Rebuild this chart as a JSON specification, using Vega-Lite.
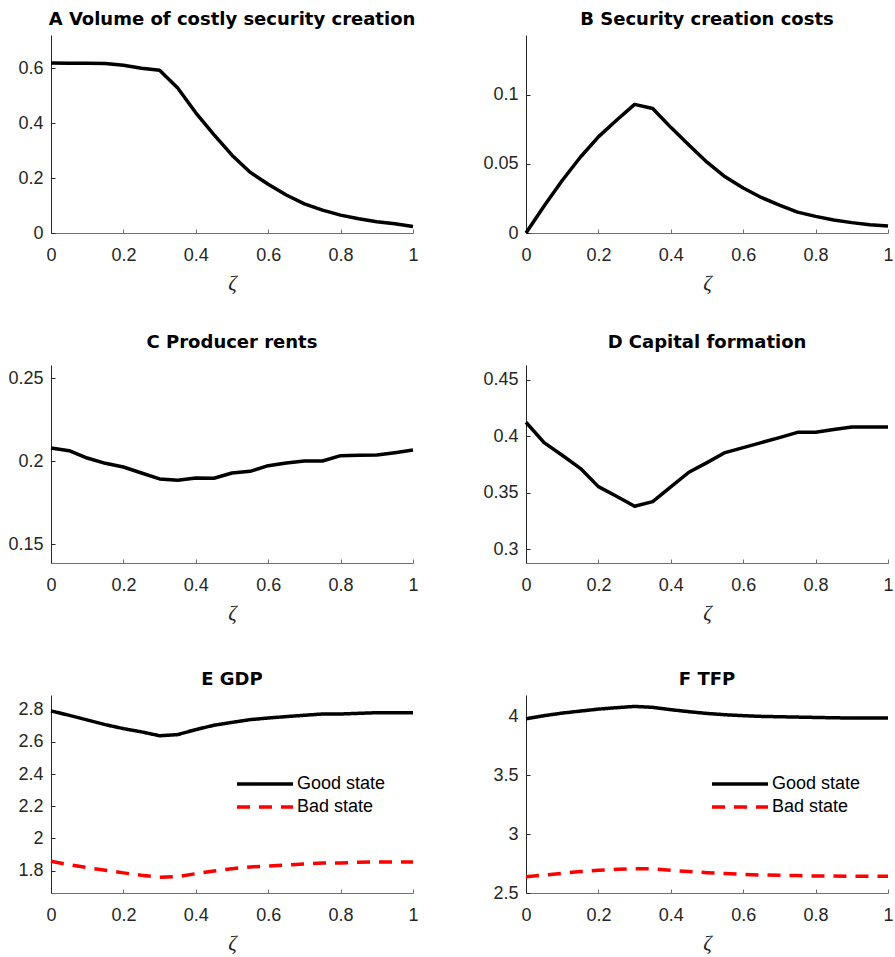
{
  "$schema": "https://vega.github.io/schema/vega-lite/v6.json",
  "background": "white",
  "padding": {"left": 7, "top": 11, "right": 0, "bottom": 5},
  "datasets": {
    "A": [
      {"z": 0, "v": 0.618}, {"z": 0.05, "v": 0.617}, {"z": 0.1, "v": 0.617}, {"z": 0.15, "v": 0.616},
      {"z": 0.2, "v": 0.61}, {"z": 0.25, "v": 0.599}, {"z": 0.3, "v": 0.592}, {"z": 0.35, "v": 0.527},
      {"z": 0.4, "v": 0.437}, {"z": 0.45, "v": 0.358}, {"z": 0.5, "v": 0.283}, {"z": 0.55, "v": 0.221},
      {"z": 0.6, "v": 0.177}, {"z": 0.65, "v": 0.138}, {"z": 0.7, "v": 0.106}, {"z": 0.75, "v": 0.083},
      {"z": 0.8, "v": 0.065}, {"z": 0.85, "v": 0.052}, {"z": 0.9, "v": 0.041}, {"z": 0.95, "v": 0.034},
      {"z": 1, "v": 0.024}
    ],
    "B": [
      {"z": 0, "v": 0.0}, {"z": 0.05, "v": 0.0195}, {"z": 0.1, "v": 0.038}, {"z": 0.15, "v": 0.0548},
      {"z": 0.2, "v": 0.0695}, {"z": 0.25, "v": 0.0815}, {"z": 0.3, "v": 0.093}, {"z": 0.35, "v": 0.09},
      {"z": 0.4, "v": 0.0764}, {"z": 0.45, "v": 0.0637}, {"z": 0.5, "v": 0.0512}, {"z": 0.55, "v": 0.0406},
      {"z": 0.6, "v": 0.0325}, {"z": 0.65, "v": 0.0257}, {"z": 0.7, "v": 0.0202}, {"z": 0.75, "v": 0.0151},
      {"z": 0.8, "v": 0.012}, {"z": 0.85, "v": 0.0094}, {"z": 0.9, "v": 0.0075}, {"z": 0.95, "v": 0.006},
      {"z": 1, "v": 0.005}
    ],
    "C": [
      {"z": 0, "v": 0.208}, {"z": 0.05, "v": 0.2064}, {"z": 0.1, "v": 0.202}, {"z": 0.15, "v": 0.1988},
      {"z": 0.2, "v": 0.1966}, {"z": 0.25, "v": 0.193}, {"z": 0.3, "v": 0.1894}, {"z": 0.35, "v": 0.1886},
      {"z": 0.4, "v": 0.19}, {"z": 0.45, "v": 0.1898}, {"z": 0.5, "v": 0.193}, {"z": 0.55, "v": 0.194},
      {"z": 0.6, "v": 0.1974}, {"z": 0.65, "v": 0.199}, {"z": 0.7, "v": 0.2002}, {"z": 0.75, "v": 0.2002},
      {"z": 0.8, "v": 0.2034}, {"z": 0.85, "v": 0.2036}, {"z": 0.9, "v": 0.2038}, {"z": 0.95, "v": 0.2052},
      {"z": 1, "v": 0.2068}
    ],
    "D": [
      {"z": 0, "v": 0.4124}, {"z": 0.05, "v": 0.3944}, {"z": 0.1, "v": 0.3832}, {"z": 0.15, "v": 0.3717},
      {"z": 0.2, "v": 0.3555}, {"z": 0.25, "v": 0.347}, {"z": 0.3, "v": 0.3381}, {"z": 0.35, "v": 0.3422},
      {"z": 0.4, "v": 0.3552}, {"z": 0.45, "v": 0.3682}, {"z": 0.5, "v": 0.3767}, {"z": 0.55, "v": 0.3856},
      {"z": 0.6, "v": 0.39}, {"z": 0.65, "v": 0.3944}, {"z": 0.7, "v": 0.3988}, {"z": 0.75, "v": 0.4035},
      {"z": 0.8, "v": 0.4035}, {"z": 0.85, "v": 0.4059}, {"z": 0.9, "v": 0.4082}, {"z": 0.95, "v": 0.4082},
      {"z": 1, "v": 0.4082}
    ],
    "E": [
      {"z": 0, "v": 2.792, "s": "Good state"}, {"z": 0.05, "v": 2.765, "s": "Good state"}, {"z": 0.1, "v": 2.736, "s": "Good state"},
      {"z": 0.15, "v": 2.707, "s": "Good state"}, {"z": 0.2, "v": 2.682, "s": "Good state"}, {"z": 0.25, "v": 2.662, "s": "Good state"},
      {"z": 0.3, "v": 2.638, "s": "Good state"}, {"z": 0.35, "v": 2.645, "s": "Good state"}, {"z": 0.4, "v": 2.676, "s": "Good state"},
      {"z": 0.45, "v": 2.703, "s": "Good state"}, {"z": 0.5, "v": 2.721, "s": "Good state"}, {"z": 0.55, "v": 2.738, "s": "Good state"},
      {"z": 0.6, "v": 2.748, "s": "Good state"}, {"z": 0.65, "v": 2.757, "s": "Good state"}, {"z": 0.7, "v": 2.765, "s": "Good state"},
      {"z": 0.75, "v": 2.773, "s": "Good state"}, {"z": 0.8, "v": 2.773, "s": "Good state"}, {"z": 0.85, "v": 2.777, "s": "Good state"},
      {"z": 0.9, "v": 2.781, "s": "Good state"}, {"z": 0.95, "v": 2.781, "s": "Good state"}, {"z": 1, "v": 2.781, "s": "Good state"},
      {"z": 0, "v": 1.858, "s": "Bad state"}, {"z": 0.05, "v": 1.837, "s": "Bad state"}, {"z": 0.1, "v": 1.819, "s": "Bad state"},
      {"z": 0.15, "v": 1.802, "s": "Bad state"}, {"z": 0.2, "v": 1.786, "s": "Bad state"}, {"z": 0.25, "v": 1.771, "s": "Bad state"},
      {"z": 0.3, "v": 1.759, "s": "Bad state"}, {"z": 0.35, "v": 1.763, "s": "Bad state"}, {"z": 0.4, "v": 1.781, "s": "Bad state"},
      {"z": 0.45, "v": 1.798, "s": "Bad state"}, {"z": 0.5, "v": 1.812, "s": "Bad state"}, {"z": 0.55, "v": 1.823, "s": "Bad state"},
      {"z": 0.6, "v": 1.829, "s": "Bad state"}, {"z": 0.65, "v": 1.835, "s": "Bad state"}, {"z": 0.7, "v": 1.841, "s": "Bad state"},
      {"z": 0.75, "v": 1.848, "s": "Bad state"}, {"z": 0.8, "v": 1.848, "s": "Bad state"}, {"z": 0.85, "v": 1.852, "s": "Bad state"},
      {"z": 0.9, "v": 1.854, "s": "Bad state"}, {"z": 0.95, "v": 1.854, "s": "Bad state"}, {"z": 1, "v": 1.854, "s": "Bad state"}
    ],
    "F": [
      {"z": 0, "v": 3.983, "s": "Good state"}, {"z": 0.05, "v": 4.009, "s": "Good state"}, {"z": 0.1, "v": 4.031, "s": "Good state"},
      {"z": 0.15, "v": 4.048, "s": "Good state"}, {"z": 0.2, "v": 4.065, "s": "Good state"}, {"z": 0.25, "v": 4.077, "s": "Good state"},
      {"z": 0.3, "v": 4.088, "s": "Good state"}, {"z": 0.35, "v": 4.08, "s": "Good state"}, {"z": 0.4, "v": 4.06, "s": "Good state"},
      {"z": 0.45, "v": 4.043, "s": "Good state"}, {"z": 0.5, "v": 4.028, "s": "Good state"}, {"z": 0.55, "v": 4.017, "s": "Good state"},
      {"z": 0.6, "v": 4.009, "s": "Good state"}, {"z": 0.65, "v": 4.003, "s": "Good state"}, {"z": 0.7, "v": 4.0, "s": "Good state"},
      {"z": 0.75, "v": 3.997, "s": "Good state"}, {"z": 0.8, "v": 3.994, "s": "Good state"}, {"z": 0.85, "v": 3.991, "s": "Good state"},
      {"z": 0.9, "v": 3.989, "s": "Good state"}, {"z": 0.95, "v": 3.989, "s": "Good state"}, {"z": 1, "v": 3.989, "s": "Good state"},
      {"z": 0, "v": 2.639, "s": "Bad state"}, {"z": 0.05, "v": 2.653, "s": "Bad state"}, {"z": 0.1, "v": 2.668, "s": "Bad state"},
      {"z": 0.15, "v": 2.682, "s": "Bad state"}, {"z": 0.2, "v": 2.693, "s": "Bad state"}, {"z": 0.25, "v": 2.702, "s": "Bad state"},
      {"z": 0.3, "v": 2.707, "s": "Bad state"}, {"z": 0.35, "v": 2.705, "s": "Bad state"}, {"z": 0.4, "v": 2.693, "s": "Bad state"},
      {"z": 0.45, "v": 2.682, "s": "Bad state"}, {"z": 0.5, "v": 2.673, "s": "Bad state"}, {"z": 0.55, "v": 2.665, "s": "Bad state"},
      {"z": 0.6, "v": 2.659, "s": "Bad state"}, {"z": 0.65, "v": 2.653, "s": "Bad state"}, {"z": 0.7, "v": 2.651, "s": "Bad state"},
      {"z": 0.75, "v": 2.648, "s": "Bad state"}, {"z": 0.8, "v": 2.645, "s": "Bad state"}, {"z": 0.85, "v": 2.645, "s": "Bad state"},
      {"z": 0.9, "v": 2.642, "s": "Bad state"}, {"z": 0.95, "v": 2.642, "s": "Bad state"}, {"z": 1, "v": 2.642, "s": "Bad state"}
    ]
  },
  "columns": 2,
  "bounds": "flush",
  "spacing": {"row": 132, "column": 113},
  "resolve": {"scale": {"color": "independent", "strokeDash": "independent"}, "legend": {"color": "independent", "strokeDash": "independent"}},
  "concat": [
    {
      "title": "A Volume of costly security creation",
      "width": 362, "height": 198,
      "data": {"name": "A"},
      "mark": {"type": "line", "color": "black"},
      "encoding": {
        "x": {"field": "z", "type": "quantitative", "title": "ζ", "scale": {"domain": [0, 1], "nice": false}, "axis": {"values": [0, 0.2, 0.4, 0.6, 0.8, 1]}},
        "y": {"field": "v", "type": "quantitative", "title": null, "scale": {"domain": [0, 0.72], "nice": false, "zero": false}, "axis": {"values": [0, 0.2, 0.4, 0.6]}}
      }
    },
    {
      "title": "B Security creation costs",
      "width": 362, "height": 198,
      "data": {"name": "B"},
      "mark": {"type": "line", "color": "black"},
      "encoding": {
        "x": {"field": "z", "type": "quantitative", "title": "ζ", "scale": {"domain": [0, 1], "nice": false}, "axis": {"values": [0, 0.2, 0.4, 0.6, 0.8, 1]}},
        "y": {"field": "v", "type": "quantitative", "title": null, "scale": {"domain": [0, 0.1432], "nice": false, "zero": false}, "axis": {"values": [0, 0.05, 0.1]}}
      }
    },
    {
      "title": {"text": "C Producer rents", "offset": 13},
      "width": 362, "height": 198,
      "data": {"name": "C"},
      "mark": {"type": "line", "color": "black"},
      "encoding": {
        "x": {"field": "z", "type": "quantitative", "title": "ζ", "scale": {"domain": [0, 1], "nice": false}, "axis": {"values": [0, 0.2, 0.4, 0.6, 0.8, 1]}},
        "y": {"field": "v", "type": "quantitative", "title": null, "scale": {"domain": [0.1388, 0.258], "nice": false, "zero": false}, "axis": {"values": [0.15, 0.2, 0.25]}}
      }
    },
    {
      "title": {"text": "D Capital formation", "offset": 13},
      "width": 362, "height": 198,
      "data": {"name": "D"},
      "mark": {"type": "line", "color": "black"},
      "encoding": {
        "x": {"field": "z", "type": "quantitative", "title": "ζ", "scale": {"domain": [0, 1], "nice": false}, "axis": {"values": [0, 0.2, 0.4, 0.6, 0.8, 1]}},
        "y": {"field": "v", "type": "quantitative", "title": null, "scale": {"domain": [0.288, 0.463], "nice": false, "zero": false}, "axis": {"values": [0.3, 0.35, 0.4, 0.45]}}
      }
    },
    {
      "title": "E GDP",
      "width": 362, "height": 198,
      "data": {"name": "E"},
      "mark": {"type": "line"},
      "encoding": {
        "x": {"field": "z", "type": "quantitative", "title": "ζ", "scale": {"domain": [0, 1], "nice": false}, "axis": {"values": [0, 0.2, 0.4, 0.6, 0.8, 1]}},
        "y": {"field": "v", "type": "quantitative", "title": null, "scale": {"domain": [1.661, 2.891], "nice": false, "zero": false}, "axis": {"values": [1.8, 2, 2.2, 2.4, 2.6, 2.8]}},
        "color": {"field": "s", "type": "nominal", "scale": {"domain": ["Good state", "Bad state"], "range": ["#000000", "#ff0000"]}, "legend": {"orient": "none", "legendX": 205, "legendY": 80}},
        "strokeDash": {"field": "s", "type": "nominal", "scale": {"domain": ["Good state", "Bad state"], "range": [[1, 0], [13, 9]]}, "legend": {"orient": "none", "legendX": 205, "legendY": 80}}
      }
    },
    {
      "title": "F TFP",
      "width": 362, "height": 198,
      "data": {"name": "F"},
      "mark": {"type": "line"},
      "encoding": {
        "x": {"field": "z", "type": "quantitative", "title": "ζ", "scale": {"domain": [0, 1], "nice": false}, "axis": {"values": [0, 0.2, 0.4, 0.6, 0.8, 1]}},
        "y": {"field": "v", "type": "quantitative", "title": null, "scale": {"domain": [2.5, 4.185], "nice": false, "zero": false}, "axis": {"values": [2.5, 3, 3.5, 4]}},
        "color": {"field": "s", "type": "nominal", "scale": {"domain": ["Good state", "Bad state"], "range": ["#000000", "#ff0000"]}, "legend": {"orient": "none", "legendX": 205, "legendY": 80}},
        "strokeDash": {"field": "s", "type": "nominal", "scale": {"domain": ["Good state", "Bad state"], "range": [[1, 0], [13, 9]]}, "legend": {"orient": "none", "legendX": 205, "legendY": 80}}
      }
    }
  ],
  "config": {
    "font": "Liberation Sans",
    "view": {"stroke": null},
    "line": {"strokeWidth": 3.5, "strokeCap": "butt", "strokeJoin": "round"},
    "axis": {
      "grid": false, "format": "~g",
      "labelFont": "Liberation Sans", "labelFontSize": 18, "labelColor": "#262626",
      "domainColor": "#262626", "tickColor": "#262626", "domainWidth": 1, "tickWidth": 1,
      "tickSize": -4, "labelFlush": false, "labelOverlap": false,
      "titleFont": "Liberation Serif", "titleFontStyle": "italic", "titleFontWeight": "normal", "titleFontSize": 21, "titleColor": "#262626"
    },
    "axisX": {"labelPadding": 17, "titlePadding": 8, "domainColor": "#707070", "tickColor": "#707070"},
    "axisY": {"labelPadding": 12},
    "title": {"font": "DejaVu Sans", "fontSize": 18, "fontWeight": "bold", "color": "#000000", "anchor": "middle", "offset": 6},
    "legend": {
      "title": null, "padding": 0,
      "symbolType": "M-4.67,0H4.67", "symbolSize": 144, "symbolStrokeWidth": 3.5,
      "labelFont": "Liberation Sans", "labelFontSize": 18, "labelColor": "#000000", "labelOffset": 23, "rowPadding": 5
    }
  }
}
